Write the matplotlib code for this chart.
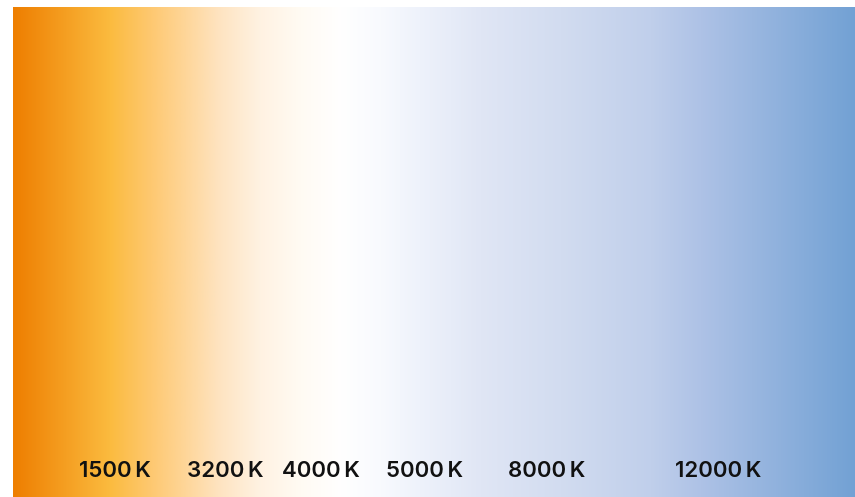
"""Colour temperature gradient strip"""

import numpy as np
import matplotlib.pyplot as plt
from matplotlib.colors import LinearSegmentedColormap

# gradient stops (position across strip 0..1, colour)
stop_pos = [0.0, 0.115, 0.163, 0.246, 0.293, 0.341, 0.39, 0.436, 0.483,
            0.555, 0.65, 0.757, 0.816, 1.0]
stop_colors = ["#EE7E00", "#FBBB3F", "#FEC870", "#FEE4C2", "#FFF2E2", "#FFFBF3",
               "#FFFFFF", "#F8FAFE", "#EEF2FB", "#E0E6F5", "#D2DCF0", "#C0CFEB",
               "#AEC2E6", "#72A1D4"]

# labels and where they sit along the strip
labels = ["1500\u2009K", "3200\u2009K", "4000\u2009K", "5000\u2009K", "8000\u2009K", "12000\u2009K"]
label_pos = [0.121, 0.252, 0.366, 0.489, 0.634, 0.837]

cmap = LinearSegmentedColormap.from_list("cct", list(zip(stop_pos, stop_colors)), N=1024)

fig = plt.figure(figsize=(8.55, 4.97), dpi=100)
ax = fig.add_axes([13 / 855, 0, 1 - 13 / 855, 1 - 7 / 497])

grad = np.linspace(0, 1, 1024).reshape(1, -1)
ax.imshow(grad, aspect="auto", cmap=cmap, extent=[0, 1, 0, 1],
          interpolation="bilinear")

for lab, xp in zip(labels, label_pos):
    ax.text(xp, 26 / 490, lab, ha="center", va="center", fontsize=16,
            family=["Inter", "DejaVu Sans"], weight="semibold", color="#111111")

ax.set_xlim(0, 1)
ax.set_ylim(0, 1)
ax.axis("off")

fig.savefig("out.png", dpi=100)
plt.close(fig)
